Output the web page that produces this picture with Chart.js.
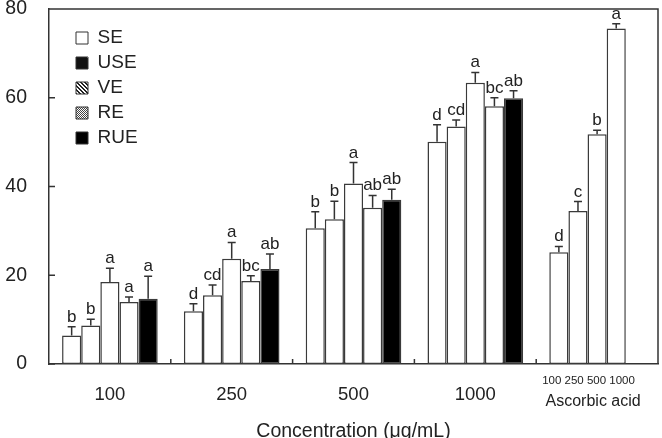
<!DOCTYPE html>
<html><head><meta charset="utf-8">
<script src="https://cdn.jsdelivr.net/npm/chart.js@4/dist/chart.umd.min.js"></script>
<style>html,body{margin:0;padding:0;background:#fff}#wrap{width:662px;height:438px}</style>
</head><body><div id="wrap"><canvas id="c" width="662" height="438"></canvas></div>
<script>
// ---- data ----
const categories = ['100', '250', '500', '1000'];
const ascorbicLabel = 'Ascorbic acid';
const ascorbicDoses = ['100', '250', '500', '1000'];
const seriesNames = ['SE', 'USE', 'VE', 'RE', 'RUE'];

const SE  = [6.4, 11.9, 30.6, 50.1];
const USE = [8.7, 15.5, 32.6, 53.5];
const VE  = [18.5, 23.7, 40.7, 63.4];
const RE  = [14.0, 18.7, 35.2, 58.1];
const RUE = [14.7, 21.4, 37.0, 59.9];
const ascorbic = [25.2, 34.5, 51.8, 75.6];

const SE_err  = [2.0, 1.7, 3.7, 3.8];
const USE_err = [1.4, 2.3, 4.1, 1.5];
const VE_err  = [3.1, 3.7, 4.7, 2.3];
const RE_err  = [1.1, 1.2, 2.8, 1.9];
const RUE_err = [5.1, 3.4, 2.4, 1.7];
const ascorbic_err = [1.3, 2.1, 0.9, 1.1];

const SE_sig  = ['b', 'd', 'b', 'd'];
const USE_sig = ['b', 'cd', 'b', 'cd'];
const VE_sig  = ['a', 'a', 'a', 'a'];
const RE_sig  = ['a', 'bc', 'ab', 'bc'];
const RUE_sig = ['a', 'ab', 'ab', 'ab'];
const ascorbic_sig = ['d', 'c', 'b', 'a'];

const yTicks = [0, 20, 40, 60, 80];

// ---- build ----
const FONT = "'Liberation Sans', Arial, Helvetica, sans-serif";
Chart.defaults.font.family = FONT;
Chart.defaults.color = '#222';

const series = [SE, USE, VE, RE, RUE];
const errs = [SE_err, USE_err, VE_err, RE_err, RUE_err];
const sigs = [SE_sig, USE_sig, VE_sig, RE_sig, RUE_sig];
// ascorbic acid doses occupy the first four bar slots of the last category
const dataAll = series.map((s, i) => s.concat([i < ascorbic.length ? ascorbic[i] : null]));
const errAll = errs.map((s, i) => s.concat([i < ascorbic.length ? ascorbic_err[i] : null]));
const sigAll = sigs.map((s, i) => s.concat([i < ascorbic.length ? ascorbic_sig[i] : null]));
const labels = categories.concat([['', ascorbicLabel + '\u2002']]);

function makePattern(kind) {
  const c = document.createElement('canvas');
  const g = c.getContext('2d');
  if (kind === 'USE') {
    c.width = c.height = 12;
    g.fillStyle = '#111'; g.fillRect(0, 0, 12, 12);
    g.fillStyle = '#fff'; g.fillRect(3, 9, 1, 1);
  } else if (kind === 'VE') {
    c.width = c.height = 4;
    g.fillStyle = '#222'; g.fillRect(0, 0, 4, 4);
    g.fillStyle = '#fff';
    for (let i = 0; i < 4; i++) { g.fillRect(i, i, 1, 1); g.fillRect((i + 1) % 4, i, 1, 1); }
  } else if (kind === 'RE') {
    c.width = c.height = 2;
    g.fillStyle = '#fff'; g.fillRect(0, 0, 2, 2);
    g.fillStyle = '#444'; g.fillRect(0, 0, 1, 1); g.fillRect(1, 1, 1, 1);
  }
  return g.createPattern(c, 'repeat');
}
const legendFills = { SE: '#fff', USE: makePattern('USE'), VE: makePattern('VE'), RE: makePattern('RE'), RUE: '#000' };
const barFills = ['#fff', '#fff', '#fff', '#fff', '#000'];

const datasets = seriesNames.map((n, i) => ({
  label: n,
  data: dataAll[i],
  backgroundColor: barFills[i],
  borderColor: '#3a3a3a',
  borderWidth: 1.5,
  borderSkipped: false,
  categoryPercentage: 0.785,
  barPercentage: 1.0
}));

const overlay = {
  id: 'overlay',
  afterLayout(chart) {
    const lg = chart.legend, a = chart.chartArea;
    if (lg) {
      const w = lg.width, h = lg.height;
      lg.left = a.left + 21; lg.top = a.top + 13.5;
      lg.right = lg.left + w; lg.bottom = lg.top + h;
    }
  },
  afterDatasetsDraw(chart) {
    const { ctx, scales: { y } } = chart;
    ctx.save();
    ctx.strokeStyle = '#333';
    ctx.lineWidth = 1.5;
    ctx.fillStyle = '#222';
    ctx.font = '17px ' + FONT;
    ctx.textAlign = 'center';
    ctx.textBaseline = 'alphabetic';
    chart.data.datasets.forEach((ds, di) => {
      const meta = chart.getDatasetMeta(di);
      meta.data.forEach((bar, i) => {
        const v = ds.data[i];
        if (v == null) return;
        const e = errAll[di][i];
        const yTop = y.getPixelForValue(v + e);
        ctx.beginPath();
        ctx.moveTo(bar.x, bar.y); ctx.lineTo(bar.x, yTop);
        ctx.moveTo(bar.x - 4, yTop); ctx.lineTo(bar.x + 4, yTop);
        ctx.stroke();
        const s = sigAll[di][i];
        if (s) ctx.fillText(s, bar.x, yTop - 5);
      });
    });
    ctx.restore();
  },
  afterDraw(chart) {
    const { ctx, chartArea: a, scales: { x, y } } = chart;
    ctx.save();
    ctx.strokeStyle = '#333';
    ctx.lineWidth = 1.5;
    ctx.beginPath();
    ctx.moveTo(a.left, a.top); ctx.lineTo(a.right, a.top); ctx.lineTo(a.right, a.bottom);
    // inward y ticks
    yTicks.forEach(v => { const py = y.getPixelForValue(v); ctx.moveTo(a.left, py); ctx.lineTo(a.left + 6, py); });
    // inward x ticks at category boundaries
    const n = chart.data.labels.length;
    for (let i = 1; i < n; i++) {
      const px = (x.getPixelForValue(i - 1) + x.getPixelForValue(i)) / 2;
      ctx.moveTo(px, a.bottom); ctx.lineTo(px, a.bottom - 5);
    }
    ctx.stroke();
    // ascorbic acid dose labels under their bar group
    const xs = ascorbicDoses.map((d, i) => chart.getDatasetMeta(i).data[categories.length].x);
    const cx = (Math.min(...xs) + Math.max(...xs)) / 2;
    ctx.fillStyle = '#222';
    ctx.font = '11.5px ' + FONT;
    ctx.textAlign = 'center';
    ctx.textBaseline = 'middle';
    ctx.fillText(ascorbicDoses.join(' '), cx + 1, a.bottom + 17);
    ctx.restore();
  }
};

new Chart(document.getElementById('c'), {
  type: 'bar',
  data: { labels, datasets },
  options: {
    responsive: false,
    animation: false,
    layout: { padding: { top: 9, right: 4, left: 0, bottom: 0 } },
    plugins: {
      tooltip: { enabled: false },
      legend: {
        position: 'chartArea',
        fullSize: false,
        align: 'start',
        labels: {
          font: { size: 19 },
          color: '#222',
          boxWidth: 12,
          boxHeight: 12,
          padding: 6,
          generateLabels(chart) {
            const items = Chart.defaults.plugins.legend.labels.generateLabels(chart);
            items.forEach(it => {
              it.fillStyle = legendFills[it.text];
              it.strokeStyle = '#333';
              it.lineWidth = 1;
            });
            return items;
          }
        }
      }
    },
    scales: {
      x: {
        grid: { display: false, drawTicks: false },
        border: { display: true, color: '#333', width: 1.5 },
        ticks: {
          padding: 20,
          maxRotation: 0,
          autoSkip: false,
          font: (c) => c.index === 4 ? { size: 16, lineHeight: 0.75 } : { size: 18.5 }
        },
        title: { display: true, text: 'Concentration (μg/mL)', font: { size: 19.5 }, padding: { top: 0, bottom: -5 } },
        afterFit(s) { s.height = 74; s.paddingLeft = 0; s.paddingRight = 0; }
      },
      y: {
        min: 0, max: 80,
        grid: { display: false, drawTicks: false },
        border: { display: true, color: '#333', width: 1.5 },
        ticks: { stepSize: 20, padding: 22, font: { size: 19.5 } },
        afterFit(s) { s.width = 49; s.paddingTop = 0; s.paddingBottom = 0; }
      }
    }
  },
  plugins: [overlay]
});
</script>
</body></html>
